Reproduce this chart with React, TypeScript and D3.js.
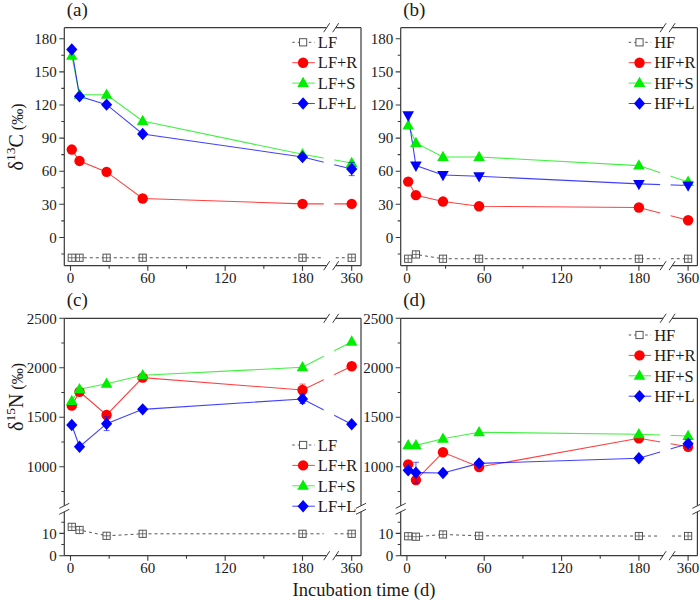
import React from "react";
import * as d3 from "d3";

const FONT = "'Liberation Serif', 'Times New Roman', serif";
const TXT = "#1a1a1a";
const AX = "#3a3a3a";

// ---------- data ----------
const days = [1, 7, 28, 56, 180, 360];
const xMajorTicks = [0, 60, 120, 180];
const xMinorTicks = [30, 90, 150];
const xFarTicks = [360];

// panel (a) δ13C, LF
const aLF = [-18.4, -18.4, -18.4, -18.4, -18.4, -18.4];
const aLFR = [79.6, 69.3, 59.4, 35.3, 30.4, 30.4];
const aLFS = [164.6, 129.3, 129.3, 105.5, 75.3, 67.5];
const aLFL = [170.3, 127.8, 120.3, 93.7, 72.9, 62];
const aLFLerr = [0, 0, 0, 0, 0, 6];

// panel (b) δ13C, HF
const bHF = [-19.3, -15.4, -19.3, -19.3, -19.3, -19.3];
const bHFR = [50.6, 38.3, 32.5, 28.3, 27.1, 15.6];
const bHFS = [101.3, 85.6, 72.9, 72.9, 65.1, 50.3];
const bHFL = [110.6, 65.1, 56.6, 55.4, 48.5, 47];

// panel (c) δ15N, LF
const cLF = [12.9, 11.5, 8.9, 9.8, 9.8, 9.8];
const cLFR = [1617, 1758, 1523, 1900, 1775, 2015];
const cLFRerr = [0, 0, 0, 0, 60, 0];
const cLFS = [1664, 1783, 1839, 1924, 2005, 2264];
const cLFL = [1422, 1202, 1435, 1580, 1684, 1429];
const cLFLerr = [0, 0, 70, 0, 45, 0];

// panel (d) δ15N, HF
const dHF = [8.7, 8.5, 9.5, 8.9, 8.8, 8.8];
const dHFR = [1024, 865, 1146, 997, 1287, 1202];
const dHFS = [1216, 1216, 1283, 1348, 1328, 1310];
const dHFL = [964, 940, 936, 1034, 1085, 1233];
const dHFLerr = [0, 105, 0, 0, 0, 40];

const cYMajor = [1000, 1500, 2000, 2500];
const cYMinor = [750, 1250, 1750, 2250];
const cYLowMajor = [0, 10];
const cYLowMinor = [5, 15];
const aYMajor = [0, 30, 60, 90, 120, 150, 180];
const aYMinor = [-15, 15, 45, 75, 105, 135, 165];

type Kind = "ctrl" | "R" | "S" | "L" | "Ldown";
interface Series {
  name: string;
  vals: number[];
  err?: number[];
  kind: Kind;
  color: string;
  low?: boolean;
}

const GRAY = "#555555";
const RED = "#ff0000";
const GREEN = "#00ee00";
const BLUE = "#0000ff";

function marker(kind: Kind, color: string, x: number, y: number, key: string, legend = false) {
  switch (kind) {
    case "ctrl":
      return (
        <g key={key}>
          <rect x={x - 3.6} y={y - 3.6} width={7.2} height={7.2} fill="#fff" stroke={color} strokeWidth={1} />
          {!legend && (
            <path d={`M${x - 3.6},${y}H${x + 3.6}M${x},${y - 3.6}V${y + 3.6}`} stroke={color} strokeWidth={0.8} />
          )}
        </g>
      );
    case "R":
      return <circle key={key} cx={x} cy={y} r={5.2} fill={color} />;
    case "S":
      return <path key={key} d={`M${x},${y - 6.3}L${x + 5.8},${y + 4}L${x - 5.8},${y + 4}Z`} fill={color} />;
    case "L":
      return <path key={key} d={`M${x},${y - 6.2}L${x + 5.6},${y}L${x},${y + 6.2}L${x - 5.6},${y}Z`} fill={color} />;
    case "Ldown":
      return <path key={key} d={`M${x},${y + 6.3}L${x + 5.8},${y - 4}L${x - 5.8},${y - 4}Z`} fill={color} />;
  }
}

interface PanelCfg {
  id: string;
  label: string;
  L: number;
  T: number;
  B: number;
  broken: boolean;
  series: Series[];
  legendTop: number;
  yTitle?: "C" | "N";
}

const W = 296.7;

function Panel({ cfg }: { cfg: PanelCfg }) {
  const { L, T, B } = cfg;
  const R = L + W;
  const brk = L + 267.4;
  const x1 = d3.scaleLinear().domain([0, 180]).range([L + 6.2, L + 238.2]);
  const x2 = d3.scaleLinear().domain([345, 367]).range([L + 268.1, L + 296.4]);
  const xp = (d: number) => (d > 250 ? x2(d) : x1(d));

  let yUp: d3.ScaleLinear<number, number>;
  let yLow: d3.ScaleLinear<number, number> | null = null;
  const yBrk = 508.8;
  if (cfg.broken) {
    yUp = d3.scaleLinear().domain([600, 2500]).range([506.3, T]);
    yLow = d3.scaleLinear().domain([0, 20]).range([B, 511]);
  } else {
    yUp = d3.scaleLinear().domain([-25.6, 190]).range([B, T]);
  }
  const yp = (s: Series, v: number) => (s.low && yLow ? yLow(v) : yUp(v));

  const clipId = `clip-${cfg.id}`;
  const els: React.ReactNode[] = [];

  // lines
  cfg.series.forEach((s, si) => {
    const pts = days.map((d, i) => [xp(d), yp(s, s.vals[i])] as [number, number]);
    const line = d3.line();
    els.push(
      <path
        key={`ln${si}`}
        d={line(pts) || ""}
        fill="none"
        stroke={s.color}
        strokeWidth={s.kind === "ctrl" ? 1 : 1.1}
        strokeDasharray={s.kind === "ctrl" ? "3,3" : undefined}
        clipPath={`url(#${clipId})`}
        opacity={s.kind === "ctrl" ? 1 : 0.75}
      />
    );
  });
  // error bars + markers
  cfg.series.forEach((s, si) => {
    days.forEach((d, i) => {
      const e = s.err ? s.err[i] : 0;
      if (e > 0) {
        const x = xp(d);
        const y0 = yp(s, s.vals[i] - e);
        const y1 = yp(s, s.vals[i] + e);
        els.push(
          <path
            key={`er${si}-${i}`}
            d={`M${x},${y0}V${y1}M${x - 3},${y0}H${x + 3}M${x - 3},${y1}H${x + 3}`}
            stroke={s.color}
            strokeWidth={0.9}
            fill="none"
            opacity={0.7}
          />
        );
      }
    });
    days.forEach((d, i) => {
      els.push(marker(s.kind, s.color, xp(d), yp(s, s.vals[i]), `mk${si}-${i}`));
    });
  });

  // frame with breaks
  const gapX0 = brk - 5;
  const gapX1 = brk + 4;
  const frame: string[] = [];
  frame.push(`M${L},${T}H${gapX0}M${gapX1},${T}H${R}`);
  frame.push(`M${L},${B}H${gapX0}M${gapX1},${B}H${R}`);
  if (cfg.broken) {
    frame.push(`M${L},${T}V${yBrk - 3}M${L},${yBrk + 3}V${B}`);
    frame.push(`M${R},${T}V${yBrk - 3}M${R},${yBrk + 3}V${B}`);
  } else {
    frame.push(`M${L},${T}V${B}M${R},${T}V${B}`);
  }
  const slashes: string[] = [];
  [T, B].forEach((yy) => {
    [gapX0, gapX1].forEach((xx) => {
      slashes.push(`M${xx - 3},${yy + 4.5}L${xx + 3},${yy - 4.5}`);
    });
  });
  if (cfg.broken) {
    [L, R].forEach((xx) => {
      [yBrk - 3, yBrk + 3].forEach((yy) => {
        slashes.push(`M${xx - 5},${yy + 2.5}L${xx + 5},${yy - 2.5}`);
      });
    });
  }

  // ticks
  const ticks: string[] = [];
  xMajorTicks.forEach((t) => ticks.push(`M${x1(t)},${B}v5`));
  xFarTicks.forEach((t) => ticks.push(`M${x2(t)},${B}v5`));
  xMinorTicks.forEach((t) => ticks.push(`M${x1(t)},${B}v3`));
  const yLabels: { y: number; t: string }[] = [];
  if (cfg.broken && yLow) {
    cYMajor.forEach((t) => {
      ticks.push(`M${L},${yUp(t)}h-5`);
      yLabels.push({ y: yUp(t), t: String(t) });
    });
    cYMinor.forEach((t) => ticks.push(`M${L},${yUp(t)}h-3`));
    cYLowMajor.forEach((t) => {
      ticks.push(`M${L},${yLow!(t)}h-5`);
      yLabels.push({ y: yLow!(t), t: String(t) });
    });
    cYLowMinor.forEach((t) => ticks.push(`M${L},${yLow!(t)}h-3`));
  } else {
    aYMajor.forEach((t) => {
      ticks.push(`M${L},${yUp(t)}h-5`);
      yLabels.push({ y: yUp(t), t: String(t) });
    });
    aYMinor.forEach((t) => ticks.push(`M${L},${yUp(t)}h-3`));
  }

  const xLabels = [...xMajorTicks.map((t) => ({ x: x1(t), t })), ...xFarTicks.map((t) => ({ x: x2(t), t }))];

  // legend
  const lg = cfg.series.map((s, i) => {
    const y = cfg.legendTop + i * 20.4;
    const lx0 = L + 228;
    const lx1 = L + 250.5;
    const mx = L + 238.8;
    const legKind: Kind = s.kind === "Ldown" ? "L" : s.kind;
    return (
      <g key={`lg${i}`}>
        <path
          d={`M${lx0},${y}H${lx1}`}
          stroke={s.color}
          strokeWidth={1}
          strokeDasharray={s.kind === "ctrl" ? "2.5,3" : undefined}
          opacity={s.kind === "ctrl" ? 1 : 0.75}
        />
        {marker(legKind, s.color, mx, y, `lm${i}`, true)}
        <text x={L + 253.5} y={y} dy="0.35em" fontSize={16.5} fill={TXT} fontFamily={FONT}>
          {s.name}
        </text>
      </g>
    );
  });

  return (
    <g>
      <defs>
        <clipPath id={clipId}>
          <rect x={L - 20} y={T - 30} width={brk - 8 - (L - 20)} height={B - T + 60} />
          <rect x={brk + 2.5} y={T - 30} width={R + 20 - (brk + 2.5)} height={B - T + 60} />
        </clipPath>
      </defs>
      {els}
      <path d={frame.join("")} stroke={AX} strokeWidth={1.2} fill="none" />
      <path d={slashes.join("")} stroke={AX} strokeWidth={1} fill="none" />
      <path d={ticks.join("")} stroke={AX} strokeWidth={1.1} fill="none" />
      {yLabels.map((l, i) => (
        <text key={`yl${i}`} x={L - 7.5} y={l.y} dy="0.35em" textAnchor="end" fontSize={15} fill={TXT} fontFamily={FONT}>
          {l.t}
        </text>
      ))}
      {xLabels.map((l, i) => (
        <text key={`xl${i}`} x={l.x} y={B + 17} textAnchor="middle" fontSize={15} fill={TXT} fontFamily={FONT}>
          {l.t}
        </text>
      ))}
      {lg}
      <text x={L + 2.5} y={T - 12.2} fontSize={19} fill={TXT} fontFamily={FONT}>
        {cfg.label}
      </text>
      {cfg.yTitle && (
        <text
          transform={`translate(${L - 41},${cfg.yTitle === "C" ? 137 : 397}) rotate(-90)`}
          textAnchor="middle"
          fontSize={20}
          fill={TXT}
          fontFamily={FONT}
        >
          <tspan>δ</tspan>
          <tspan dy={-8} fontSize={13.5}>
            {cfg.yTitle === "C" ? "13" : "15"}
          </tspan>
          <tspan dy={8}>{cfg.yTitle}</tspan>
          <tspan fontSize={16}>{" (‰)"}</tspan>
        </text>
      )}
    </g>
  );
}

const panels: PanelCfg[] = [
  {
    id: "a",
    label: "(a)",
    L: 64.3,
    T: 27.7,
    B: 265.7,
    broken: false,
    legendTop: 42.3,
    yTitle: "C",
    series: [
      { name: "LF", vals: aLF, kind: "ctrl", color: GRAY },
      { name: "LF+R", vals: aLFR, kind: "R", color: RED },
      { name: "LF+S", vals: aLFS, kind: "S", color: GREEN },
      { name: "LF+L", vals: aLFL, err: aLFLerr, kind: "L", color: BLUE },
    ],
  },
  {
    id: "b",
    label: "(b)",
    L: 400.7,
    T: 27.7,
    B: 265.7,
    broken: false,
    legendTop: 42.3,
    series: [
      { name: "HF", vals: bHF, kind: "ctrl", color: GRAY },
      { name: "HF+R", vals: bHFR, kind: "R", color: RED },
      { name: "HF+S", vals: bHFS, kind: "S", color: GREEN },
      { name: "HF+L", vals: bHFL, kind: "Ldown", color: BLUE },
    ],
  },
  {
    id: "c",
    label: "(c)",
    L: 64.3,
    T: 318.3,
    B: 555.7,
    broken: true,
    legendTop: 445,
    yTitle: "N",
    series: [
      { name: "LF", vals: cLF, kind: "ctrl", color: GRAY, low: true },
      { name: "LF+R", vals: cLFR, err: cLFRerr, kind: "R", color: RED },
      { name: "LF+S", vals: cLFS, kind: "S", color: GREEN },
      { name: "LF+L", vals: cLFL, err: cLFLerr, kind: "L", color: BLUE },
    ],
  },
  {
    id: "d",
    label: "(d)",
    L: 400.7,
    T: 318.3,
    B: 555.7,
    broken: true,
    legendTop: 335,
    series: [
      { name: "HF", vals: dHF, kind: "ctrl", color: GRAY, low: true },
      { name: "HF+R", vals: dHFR, kind: "R", color: RED },
      { name: "HF+S", vals: dHFS, kind: "S", color: GREEN },
      { name: "HF+L", vals: dHFL, err: dHFLerr, kind: "L", color: BLUE },
    ],
  },
];

export default function App() {
  return (
    <svg
      width={700}
      height={603}
      viewBox="0 0 700 603"
      style={{ position: "absolute", left: 0, top: 0, background: "#fff" }}
    >
      <rect x={0} y={0} width={700} height={603} fill="#fff" />
      {panels.map((p) => (
        <Panel key={p.id} cfg={p} />
      ))}
      <text x={364} y={596} textAnchor="middle" fontSize={18.5} fill={TXT} fontFamily={FONT}>
        Incubation time (d)
      </text>
    </svg>
  );
}
